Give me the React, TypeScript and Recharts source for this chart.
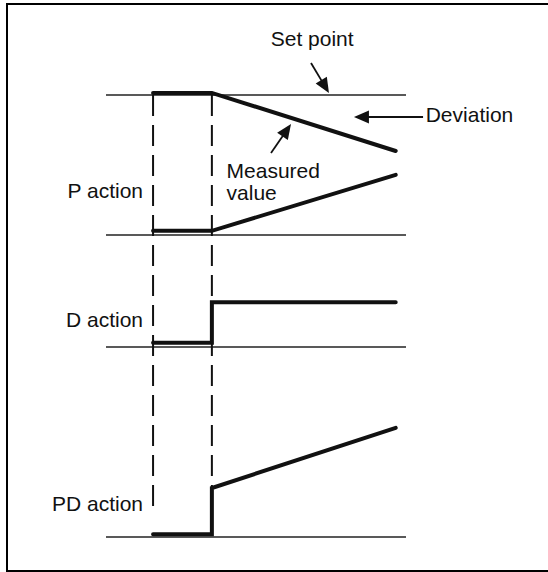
import React from "react"
import { LineChart, Line, XAxis, YAxis, ReferenceLine, ReferenceDot } from "recharts"

// time axis (step applied at t=0, derivative kick lasts until t=2)
const stepTimes = [0, 2]
const setPoint = 100

// P action panel
const measuredT = [0, 2, 8.25]
const measuredV = [101.5, 101.5, 60]
const pOutT = [0, 2, 8.25]
const pOutV = [3, 3, 43]

// D action panel
const dOutT = [0, 2, 2, 8.25]
const dOutV = [3, 3, 32, 32]

// PD action panel
const pdOutT = [0, 2, 2, 8.25]
const pdOutV = [2, 2, 35, 78]

const toSeries = (ts: number[], vs: number[]) => ts.map((t, i) => ({ t, v: vs[i] }))

const W = 548
const H = 572
const K = 1.4 // px per unit
const P_BASE = 235
const D_BASE = 347
const PD_BASE = 537
const domainFor = (base: number) => [(base - H) / K, base / K]

const INK = "#111"
const FONT = "'Liberation Sans', Arial, sans-serif"

const textShape = (label: string, anchor: "start" | "end") => (props: any) => (
  <text
    x={props.cx}
    y={props.cy}
    textAnchor={anchor}
    fontFamily={FONT}
    fontSize={21}
    fill={INK}
  >
    {label}
  </text>
)

const arrowShape = (props: any) => {
  const { x1, y1, x2, y2 } = props
  const dx = x2 - x1
  const dy = y2 - y1
  const len = Math.sqrt(dx * dx + dy * dy)
  const ux = dx / len
  const uy = dy / len
  const hl = 15
  const hw = 6.5
  const bx = x2 - ux * hl
  const by = y2 - uy * hl
  return (
    <g>
      <line x1={x1} y1={y1} x2={bx + ux * 2} y2={by + uy * 2} stroke={INK} strokeWidth={1.8} />
      <polygon
        points={`${x2},${y2} ${bx - uy * hw},${by + ux * hw} ${bx + uy * hw},${by - ux * hw}`}
        fill={INK}
      />
    </g>
  )
}

const thick = { stroke: INK, strokeWidth: 4, dot: false, isAnimationActive: false, strokeLinecap: "round" as const, type: "linear" as const }

export default function App() {
  const guideTop = setPoint + (PD_BASE - P_BASE) / K
  return (
    <div style={{ position: "absolute", left: 0, top: 0, width: W, height: H, overflow: "hidden", background: "#fff" }}>
      <div
        style={{
          position: "absolute",
          left: 6,
          top: 3,
          width: W,
          height: 569,
          boxSizing: "border-box",
          borderTop: "2.5px solid #000",
          borderLeft: "2.5px solid #000",
          borderBottom: "2.5px solid #000",
        }}
      />
      <div style={{ position: "absolute", left: 0, top: 0 }}>
        <LineChart width={W} height={H} margin={{ top: 0, right: 142, bottom: 0, left: 106 }}>
          <XAxis xAxisId="t" type="number" dataKey="t" domain={[-1.6, 8.6]} hide />
          <YAxis yAxisId="p" type="number" domain={domainFor(P_BASE)} hide />
          <YAxis yAxisId="d" type="number" domain={domainFor(D_BASE)} hide />
          <YAxis yAxisId="pd" type="number" domain={domainFor(PD_BASE)} hide />

          {/* baselines and set point */}
          <ReferenceLine xAxisId="t" yAxisId="p" y={setPoint} stroke="#222" strokeWidth={1.6} />
          <ReferenceLine xAxisId="t" yAxisId="p" y={0} stroke="#222" strokeWidth={1.6} />
          <ReferenceLine xAxisId="t" yAxisId="d" y={0} stroke="#222" strokeWidth={1.6} />
          <ReferenceLine xAxisId="t" yAxisId="pd" y={0} stroke="#222" strokeWidth={1.6} />

          {/* dashed guides */}
          <ReferenceLine
            xAxisId="t"
            yAxisId="pd"
            segment={[{ x: stepTimes[0], y: guideTop }, { x: stepTimes[0], y: 19.3 }]}
            stroke={INK}
            strokeWidth={2}
            strokeDasharray="21 9"
          />
          <ReferenceLine
            xAxisId="t"
            yAxisId="pd"
            segment={[{ x: stepTimes[1], y: guideTop }, { x: stepTimes[1], y: pdOutV[2] }]}
            stroke={INK}
            strokeWidth={2}
            strokeDasharray="21 9"
          />

          <Line xAxisId="t" yAxisId="p" data={toSeries(measuredT, measuredV)} dataKey="v" {...thick} />
          <Line xAxisId="t" yAxisId="p" data={toSeries(pOutT, pOutV)} dataKey="v" {...thick} />
          <Line xAxisId="t" yAxisId="d" data={toSeries(dOutT, dOutV)} dataKey="v" {...thick} strokeLinejoin="miter" />
          <Line xAxisId="t" yAxisId="pd" data={toSeries(pdOutT, pdOutV)} dataKey="v" {...thick} strokeLinejoin="miter" />

          {/* arrows */}
          <ReferenceLine xAxisId="t" yAxisId="p" ifOverflow="visible" segment={[{ x: 5.37, y: 122.9 }, { x: 5.98, y: 101.4 }]} shape={arrowShape} />
          <ReferenceLine xAxisId="t" yAxisId="p" ifOverflow="visible" segment={[{ x: 9.18, y: 84.3 }, { x: 6.83, y: 84.3 }]} shape={arrowShape} />
          <ReferenceLine xAxisId="t" yAxisId="p" ifOverflow="visible" segment={[{ x: 4.01, y: 58.6 }, { x: 4.69, y: 79.3 }]} shape={arrowShape} />

          {/* labels */}
          <ReferenceDot xAxisId="t" yAxisId="p" x={4.0} y={135} r={0} ifOverflow="visible" shape={textShape("Set point", "start")} />
          <ReferenceDot xAxisId="t" yAxisId="p" x={9.27} y={80.9} r={0} ifOverflow="visible" shape={textShape("Deviation", "start")} />
          <ReferenceDot xAxisId="t" yAxisId="p" x={2.5} y={40.7} r={0} ifOverflow="visible" shape={textShape("Measured", "start")} />
          <ReferenceDot xAxisId="t" yAxisId="p" x={2.5} y={25} r={0} ifOverflow="visible" shape={textShape("value", "start")} />
          <ReferenceDot xAxisId="t" yAxisId="p" x={-0.34} y={26.6} r={0} ifOverflow="visible" shape={textShape("P action", "end")} />
          <ReferenceDot xAxisId="t" yAxisId="d" x={-0.34} y={14.5} r={0} ifOverflow="visible" shape={textShape("D action", "end")} />
          <ReferenceDot xAxisId="t" yAxisId="pd" x={-0.34} y={18.6} r={0} ifOverflow="visible" shape={textShape("PD action", "end")} />
        </LineChart>
      </div>
    </div>
  )
}
